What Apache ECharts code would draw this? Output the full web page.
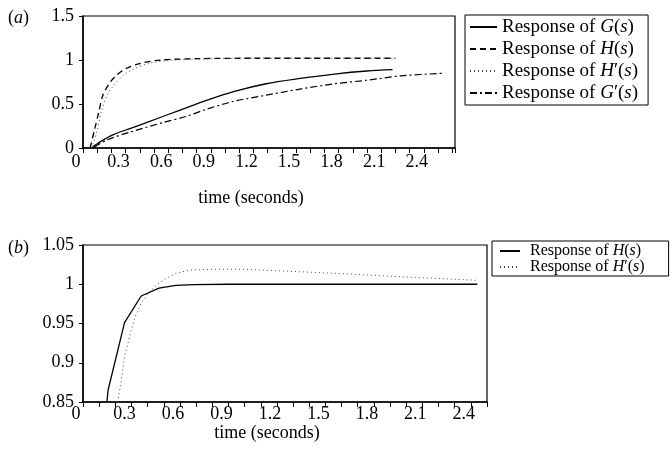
<!DOCTYPE html>
<html>
<head>
<meta charset="utf-8">
<script src="https://cdn.jsdelivr.net/npm/echarts@6/dist/echarts.min.js"></script>
<style>
  html, body { margin: 0; padding: 0; background: #fff; }
  #main { width: 672px; height: 460px; }
</style>
</head>
<body>
<div id="main"></div>
<script>
// (a) step responses
var gX = [0.06, 0.12, 0.21, 0.33, 0.45, 0.59, 0.75, 0.85, 1.06, 1.29, 1.53, 1.77, 2.0, 2.18];
var gY = [0, 0.07, 0.15, 0.22, 0.29, 0.375, 0.47, 0.53, 0.64, 0.73, 0.79, 0.84, 0.875, 0.89];
var hX = [0.05, 0.08, 0.11, 0.14, 0.18, 0.23, 0.3, 0.4, 0.55, 0.8, 1.2, 1.6, 2.2];
var hY = [0, 0.2, 0.4, 0.6, 0.72, 0.82, 0.9, 0.96, 1.0, 1.015, 1.02, 1.02, 1.02];
var h1X = [0.06, 0.1, 0.13, 0.17, 0.22, 0.28, 0.36, 0.46, 0.6, 0.8, 1.2, 1.6, 2.2];
var h1Y = [0, 0.2, 0.42, 0.6, 0.72, 0.82, 0.9, 0.96, 0.995, 1.01, 1.02, 1.02, 1.02];
var g1X = [0.08, 0.165, 0.33, 0.565, 0.73, 0.85, 1.06, 1.29, 1.53, 1.77, 2.0, 2.24, 2.55];
var g1Y = [0.01, 0.09, 0.18, 0.29, 0.36, 0.43, 0.53, 0.6, 0.67, 0.73, 0.77, 0.82, 0.85];

// (b) close-up near 1
var bhX = [0.148, 0.155, 0.257, 0.36, 0.47, 0.575, 0.69, 0.9, 1.5, 2.44];
var bhY = [0.85, 0.865, 0.951, 0.985, 0.995, 0.9985, 0.9995, 1.0, 1.0, 1.0];
var bh1X = [0.215, 0.237, 0.257, 0.288, 0.319, 0.36, 0.41, 0.46, 0.515, 0.575, 0.66, 0.8, 1.0, 1.34, 1.65, 1.95, 2.44];
var bh1Y = [0.85, 0.878, 0.908, 0.933, 0.957, 0.976, 0.99, 1.0, 1.0075, 1.014, 1.018, 1.019, 1.019, 1.016, 1.013, 1.0097, 1.005];

var legendA = ['aG', 'aH', 'aH1', 'aG1'];
var legendB = ['bH', 'bH1'];
var legendText = {
  aG: 'Response of {i|G}({i|s})',
  aH: 'Response of {i|H}({i|s})',
  aH1: 'Response of {i|H}′({i|s})',
  aG1: 'Response of {i|G}′({i|s})',
  bH: 'Response of {i|H}({i|s})',
  bH1: 'Response of {i|H}′({i|s})'
};

var serif = '"Liberation Serif", "DejaVu Serif", serif';

function pairs(xs, ys) {
  return xs.map(function (x, i) { return [x, ys[i]]; });
}

function xLabel(v) {
  var k = Math.round(v * 10);
  if (Math.abs(v * 10 - k) > 1e-6 || k % 3 !== 0) return '';
  return String(+v.toFixed(1));
}

function xAxisOf(idx, max, labelMargin, nameGap, shift) {
  return {
    type: 'value', gridIndex: idx, min: 0, max: max, interval: 0.1,
    axisLine: { onZero: false, lineStyle: { color: '#000', width: 1.5 } },
    axisTick: { show: true, length: 5, lineStyle: { color: '#000', width: 1 } },
    axisLabel: {
      formatter: xLabel, color: '#000', fontFamily: serif, fontSize: 18,
      margin: labelMargin, padding: [0, shift, 0, 0]
    },
    splitLine: { show: false },
    name: 'time (seconds)', nameLocation: 'middle', nameGap: nameGap,
    nameTextStyle: { color: '#000', fontFamily: serif, fontSize: 18, padding: [0, 36, 0, 0] }
  };
}

function yAxisOf(idx, min, max, interval) {
  return {
    type: 'value', gridIndex: idx, min: min, max: max, interval: interval,
    axisLine: { show: true, lineStyle: { color: '#000', width: 1.5 } },
    axisTick: { show: true, length: 4, lineStyle: { color: '#000' } },
    axisLabel: { color: '#000', fontFamily: serif, fontSize: 18, margin: 9 },
    splitLine: { show: false }
  };
}

function line(name, idx, data, type, width, color, smooth) {
  return {
    name: name, type: 'line', xAxisIndex: idx, yAxisIndex: idx,
    data: data, symbol: 'none', smooth: smooth || false, animation: false,
    lineStyle: { color: color || '#000', width: width, type: type },
    itemStyle: { color: color || '#000' }
  };
}

function legendOf(names, left, top, fontSize, lineHeight, gap, itemWidth, itemHeight, padding, textPad) {
  return {
    data: names, orient: 'vertical', left: left, top: top,
    itemWidth: itemWidth, itemHeight: itemHeight, itemGap: gap,
    borderColor: '#000', borderWidth: 1, padding: padding,
    selectedMode: false,
    itemStyle: { opacity: 0 },
    formatter: function (n) { return legendText[n]; },
    textStyle: {
      color: '#000', fontFamily: serif, fontSize: fontSize, lineHeight: lineHeight,
      padding: [0, 0, 0, textPad],
      rich: { i: { fontStyle: 'italic', fontFamily: serif, fontSize: fontSize, lineHeight: lineHeight, color: '#000' } }
    }
  };
}

var chart = echarts.init(document.getElementById('main'), null, { renderer: 'canvas' });

var titleRich = { i: { fontStyle: 'italic', fontFamily: serif, fontSize: 18, color: '#000' } };

chart.setOption({
  backgroundColor: '#fff',
  animation: false,
  title: [
    { text: '({i|a})', left: 3, top: 4, textStyle: { fontFamily: serif, fontSize: 18, fontWeight: 'normal', color: '#000', rich: titleRich } },
    { text: '({i|b})', left: 3, top: 234, textStyle: { fontFamily: serif, fontSize: 18, fontWeight: 'normal', color: '#000', rich: titleRich } }
  ],
  grid: [
    { left: 83, right: 217, top: 16, bottom: 312, show: true, borderColor: '#000', borderWidth: 1.2, backgroundColor: 'transparent' },
    { left: 83, right: 185, top: 245, bottom: 58, show: true, borderColor: '#000', borderWidth: 1.2, backgroundColor: 'transparent' }
  ],
  xAxis: [
    xAxisOf(0, 2.62, 5, 41, 14),
    xAxisOf(1, 2.5, 3, 18, 14)
  ],
  yAxis: [
    yAxisOf(0, 0, 1.5, 0.5),
    yAxisOf(1, 0.85, 1.05, 0.05)
  ],
  legend: [
    legendOf(legendA, 465, 15, 19, 20, 2, 27, 10, [2, 10, 2, 4], 0),
    legendOf(legendB, 492, 241, 16, 12, 0, 20, 8, [2, 24, 1, 7], 5)
  ],
  series: [
    line('aG', 0, pairs(gX, gY), 'solid', 1.3, null, 0.3),
    line('aH', 0, pairs(hX, hY), [6, 4], 1.3, null, 0.3),
    line('aH1', 0, pairs(h1X, h1Y), [1, 3], 1, '#444', 0.3),
    line('aG1', 0, pairs(g1X, g1Y), [7, 3, 2, 3], 1.2, null, 0.3),
    line('bH', 1, pairs(bhX, bhY), 'solid', 1.3),
    line('bH1', 1, pairs(bh1X, bh1Y), [1, 3], 1, '#444')
  ]
});
</script>
</body>
</html>
